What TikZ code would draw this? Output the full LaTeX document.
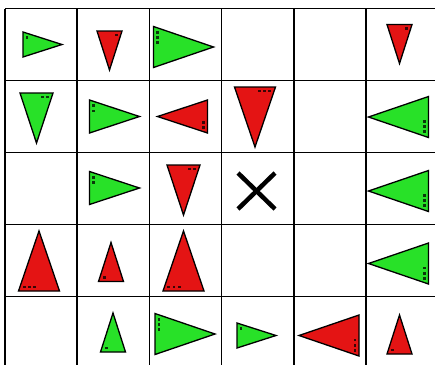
\documentclass[tikz,border=0pt]{standalone}
\begin{document}
\begin{tikzpicture}[x=1pt,y=1pt]
\definecolor{pgreen}{RGB}{40,225,40}
\definecolor{pred}{RGB}{228,20,20}
\tikzset{
  gridline/.style={line width=1.6pt, black},
  pyrline/.style={line width=1.3pt, black, line join=miter},
  pics/pyr/.style n args={4}{code={
    \filldraw[pyrline, fill=#1] (-#2/2,-#3/2) -- (#2/2,-#3/2) -- (0,#3/2) -- cycle;
    \foreach \i in {1,...,#4} {
      \fill[black!75!#1] ({-#2/2+0.5+5.2*\i-1.4},{-#3/2+2.6}) rectangle ++(2.8,2.8);
    }
  }},
}
\def\S{25}\def\SL{39}
\def\M{33}\def\ML{50}
\def\L{41}\def\LL{60}
\fill[white] (0,0) rectangle (435,-365);
\useasboundingbox (0,0) rectangle (435,-365);
% grid
\foreach \x in {5,77.2,149.4,221.6,293.8,366} \draw[gridline] (\x,-8.5) -- (\x,-365);
\foreach \y in {8.5,80.5,152.5,224.5,296.5} \draw[gridline] (5,-\y) -- (435,-\y);
% row 0
\pic[rotate=-90] at (42.5,-44.5) {pyr={pgreen}{\S}{\SL}{1}};
\pic[rotate=180] at (109.5,-50.5) {pyr={pred}{\S}{\SL}{1}};
\pic[rotate=-90] at (183.5,-47) {pyr={pgreen}{\L}{\LL}{3}};
\pic[rotate=180] at (399.5,-44) {pyr={pred}{\S}{\SL}{1}};
% row 1
\pic[rotate=180] at (36.5,-118) {pyr={pgreen}{\M}{\ML}{2}};
\pic[rotate=-90] at (114.5,-116.5) {pyr={pgreen}{\M}{\ML}{2}};
\pic[rotate=90] at (182.5,-116.5) {pyr={pred}{\M}{\ML}{2}};
\pic[rotate=180] at (255,-117) {pyr={pred}{\L}{\LL}{3}};
\pic[rotate=90] at (398.5,-117) {pyr={pgreen}{\L}{\LL}{3}};
% row 2
\pic[rotate=-90] at (114.5,-188) {pyr={pgreen}{\M}{\ML}{2}};
\pic[rotate=180] at (183.5,-190) {pyr={pred}{\M}{\ML}{2}};
\draw[line width=4.5pt] (238,-173) -- (275,-209);
\draw[line width=4.5pt] (238,-209) -- (275,-173);
\pic[rotate=90] at (398.5,-191) {pyr={pgreen}{\L}{\LL}{3}};
% row 3
\pic at (39,-261) {pyr={pred}{\L}{\LL}{3}};
\pic at (111,-262) {pyr={pred}{\S}{\SL}{1}};
\pic at (183.5,-261) {pyr={pred}{\L}{\LL}{3}};
\pic[rotate=90] at (398.5,-263.5) {pyr={pgreen}{\L}{\LL}{3}};
% row 4
\pic at (113,-332.5) {pyr={pgreen}{\S}{\SL}{1}};
\pic[rotate=-90] at (185,-334) {pyr={pgreen}{\L}{\LL}{3}};
\pic[rotate=-90] at (256.5,-335.5) {pyr={pgreen}{\S}{\SL}{1}};
\pic[rotate=90] at (329,-335.5) {pyr={pred}{\L}{\LL}{3}};
\pic at (399.5,-334.5) {pyr={pred}{\S}{\SL}{1}};
\end{tikzpicture}
\end{document}
